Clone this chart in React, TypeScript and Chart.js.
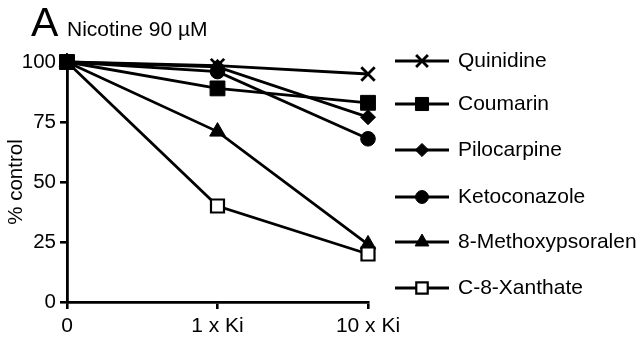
import React, { useEffect, useRef } from 'react';
import { Chart, registerables } from 'chart.js';
import { drawPoint } from 'chart.js/helpers';

Chart.register(...registerables);

const categories = ['0', '1 x Ki', '10 x Ki'];
const quinidine = [100, 98.5, 95];
const coumarin = [100, 89, 83];
const pilocarpine = [100, 98, 77];
const ketoconazole = [100, 96, 68];
const methoxypsoralen = [100, 71, 24];
const xanthate = [100, 40, 20];
const yMin = 0;
const yMax = 100;
const yStep = 25;

const FONT = "'Liberation Sans', Arial, sans-serif";

const legendRows = [61, 104, 150, 197, 242, 288];

const customLegend = {
  id: 'customLegend',
  afterDraw(chart: any) {
    const ctx = chart.ctx;
    ctx.save();
    // Title
    ctx.fillStyle = '#000';
    ctx.textBaseline = 'alphabetic';
    ctx.textAlign = 'left';
    ctx.font = `41px ${FONT}`;
    ctx.fillText('A', 31, 36);
    ctx.font = `21px ${FONT}`;
    ctx.fillText('Nicotine 90 µM', 67, 36);

    chart.data.datasets.forEach((ds: any, i: number) => {
      const y = legendRows[i];
      ctx.strokeStyle = '#000';
      ctx.lineWidth = 2.8;
      ctx.beginPath();
      ctx.moveTo(395, y);
      ctx.lineTo(449, y);
      ctx.stroke();
      ctx.fillStyle = ds.pointBackgroundColor;
      ctx.strokeStyle = '#000';
      ctx.lineWidth = ds.pointBorderWidth;
      drawPoint(ctx, {
        pointStyle: ds.pointStyle,
        radius: ds.pointRadius * 0.88,
        borderWidth: ds.pointBorderWidth,
        rotation: 0,
      } as any, 422, y);
      ctx.fillStyle = '#000';
      ctx.font = `21px ${FONT}`;
      ctx.textBaseline = 'middle';
      ctx.textAlign = 'left';
      ctx.fillText(ds.label, 458, y);
    });
    ctx.restore();
  },
};

function mk(label: string, data: number[], style: string, radius: number, bw: number, bg: string, order: number) {
  return {
    label,
    data,
    borderColor: '#000',
    borderWidth: 2.8,
    pointStyle: style,
    pointRadius: radius,
    pointHoverRadius: radius,
    pointBorderWidth: bw,
    pointBackgroundColor: bg,
    pointBorderColor: '#000',
    backgroundColor: bg,
    tension: 0,
    fill: false,
    clip: false,
    order,
  };
}

export default function App() {
  const ref = useRef<HTMLCanvasElement>(null);
  useEffect(() => {
    document.body.style.margin = '0';
    const chart = new Chart(ref.current!, {
      type: 'line',
      data: {
        labels: categories,
        datasets: [
          mk('Quinidine', quinidine, 'crossRot', 9.5, 2.8, '#000', 5),
          mk('Coumarin', coumarin, 'rect', 10.5, 1, '#000', 0),
          mk('Pilocarpine', pilocarpine, 'rectRot', 7.5, 1, '#000', 4),
          mk('Ketoconazole', ketoconazole, 'circle', 7.3, 1, '#000', 3),
          mk('8-Methoxypsoralen', methoxypsoralen, 'triangle', 9, 1, '#000', 2),
          mk('C-8-Xanthate', xanthate, 'rect', 9.2, 2.2, '#fff', 1),
        ] as any,
      },
      options: {
        animation: false,
        responsive: false,
        devicePixelRatio: 1,
        layout: { padding: { top: 62, right: 275, left: 0, bottom: 0 } },
        plugins: { legend: { display: false }, tooltip: { enabled: false }, title: { display: false } },
        scales: {
          x: {
            type: 'category',
            offset: false,
            afterFit: (s: any) => { s.height = 41; },
            grid: { drawOnChartArea: false, color: '#000', lineWidth: 2.6, tickLength: 7 },
            border: { color: '#000', width: 2.8 },
            ticks: { color: '#000', font: { family: FONT, size: 21 }, padding: 5, maxRotation: 0 },
          },
          y: {
            min: yMin,
            max: yMax,
            afterFit: (s: any) => { s.width = 67; },
            grid: { drawOnChartArea: false, color: '#000', lineWidth: 2.6, tickLength: 7 },
            border: { color: '#000', width: 2.8 },
            ticks: { stepSize: yStep, color: '#000', font: { family: FONT, size: 20.5 }, padding: 4 },
            title: { display: true, text: '% control', color: '#000', font: { family: FONT, size: 20.5 }, padding: { top: 4, bottom: 0 } },
          },
        },
      },
      plugins: [customLegend],
    });
    return () => chart.destroy();
  }, []);
  return (
    <div style={{ width: 643, height: 343 }}>
      <canvas ref={ref} width={643} height={343} />
    </div>
  );
}
